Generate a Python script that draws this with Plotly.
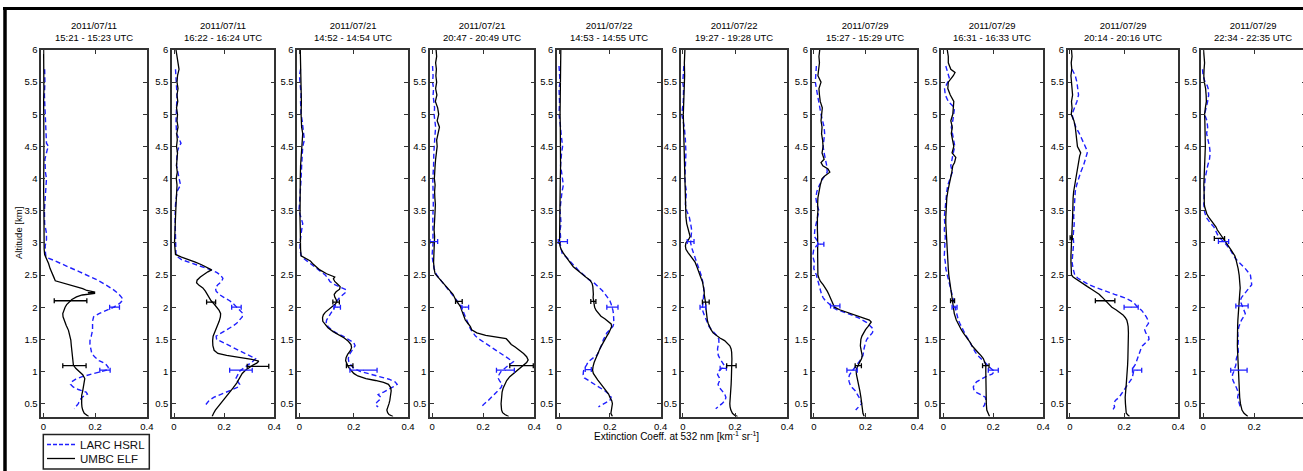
import plotly.graph_objects as go

# ---------------- labels / ticks ----------------
TITLES = [
    "2011/07/11<br>15:21 - 15:23 UTC", "2011/07/11<br>16:22 - 16:24 UTC",
    "2011/07/21<br>14:52 - 14:54 UTC", "2011/07/21<br>20:47 - 20:49 UTC",
    "2011/07/22<br>14:53 - 14:55 UTC", "2011/07/22<br>19:27 - 19:28 UTC",
    "2011/07/29<br>15:27 - 15:29 UTC", "2011/07/29<br>16:31 - 16:33 UTC",
    "2011/07/29<br>20:14 - 20:16 UTC", "2011/07/29<br>22:34 - 22:35 UTC",
]
X_TICKS = [0, 0.2, 0.4]
X_TICK_TEXT = ["0", "0.2", "0.4"]
Y_TICKS = [0.5, 1, 1.5, 2, 2.5, 3, 3.5, 4, 4.5, 5, 5.5, 6]
Y_TICK_TEXT = ["0.5", "1", "1.5", "2", "2.5", "3", "3.5", "4", "4.5", "5", "5.5", "6"]
SERIES_NAMES = ["LARC HSRL", "UMBC ELF"]
Y_TITLE = "Altitude [km]"
X_TITLE = "Extinction Coeff. at 532 nm [km<sup>-1</sup> sr<sup>-1</sup>]"

# ---------------- Panel 1 ----------------
ELF_ALT_1 = [6.0,5.8,5.6,5.4,5.2,5.0,4.8,4.6,4.4,4.2,
             4.0,3.8,3.6,3.4,3.2,3.0,2.9,2.82,2.75,2.68,
             2.6,2.52,2.46,2.41,2.37,2.33,2.29,2.26,2.235,2.225,
             2.215,2.19,2.16,2.12,2.08,2.04,2.0,1.95,1.9,1.85,
             1.8,1.72,1.64,1.56,1.49,1.4,1.3,1.2,1.1,1.05,
             1.0,0.95,0.89,0.82,0.76,0.7,0.63,0.56,0.5,0.45,
             0.4,0.35,0.32,0.3]
ELF_VAL_1 = [0.001,0.002,0.001,0.002,0.001,0.002,0.001,0.002,0.002,0.001,
             0.002,0.001,0.002,0.002,0.003,0.002,0.003,0.005,0.013,0.02,
             0.026,0.036,0.041,0.046,0.08,0.12,0.152,0.168,0.2,0.172,
             0.2,0.15,0.128,0.11,0.098,0.09,0.084,0.078,0.075,0.076,
             0.08,0.088,0.097,0.102,0.106,0.108,0.11,0.112,0.116,0.125,
             0.14,0.152,0.16,0.158,0.155,0.152,0.148,0.147,0.148,0.149,
             0.152,0.158,0.17,0.175]
HSRL_ALT_1 = [5.7,5.5,5.3,5.1,4.9,4.7,4.55,4.5,4.45,4.3,
              4.1,4.0,3.9,3.7,3.5,3.3,3.15,3.05,2.95,2.85,
              2.78,2.72,2.67,2.62,2.55,2.48,2.42,2.35,2.28,2.21,
              2.15,2.11,2.06,2.0,1.95,1.9,1.85,1.78,1.7,1.64,
              1.55,1.48,1.42,1.35,1.28,1.22,1.17,1.12,1.07,1.03,
              1.0,0.96,0.92,0.88,0.84,0.8,0.76,0.72,0.68,0.65,
              0.6,0.55,0.5,0.45,0.42]
HSRL_VAL_1 = [0.005,0.006,0.004,0.006,0.007,0.008,0.012,0.02,0.015,0.006,
              0.008,0.012,0.01,0.006,0.004,0.005,0.012,0.012,0.007,0.008,
              0.01,0.045,0.07,0.1,0.14,0.178,0.21,0.24,0.268,0.29,
              0.303,0.307,0.295,0.272,0.24,0.215,0.194,0.19,0.19,0.19,
              0.185,0.18,0.18,0.183,0.187,0.2,0.215,0.24,0.25,0.252,
              0.225,0.18,0.15,0.125,0.11,0.105,0.115,0.135,0.165,0.17,
              0.15,0.14,0.135,0.125,0.12]
ELF_ERR_ALT_1 = [2.1, 1.09]
ELF_ERR_X_1 = [0.105, 0.12]
ELF_ERR_HALF_1 = [0.063, 0.045]
HSRL_ERR_ALT_1 = [2.0, 1.02]
HSRL_ERR_X_1 = [0.275, 0.238]
HSRL_ERR_HALF_1 = [0.019, 0.02]

# ---------------- Panel 2 ----------------
ELF_ALT_2 = [6.0,5.9,5.8,5.7,5.6,5.5,5.4,5.3,5.2,5.1,
             5.0,4.9,4.8,4.7,4.6,4.5,4.4,4.3,4.2,4.1,
             4.0,3.9,3.8,3.7,3.6,3.5,3.4,3.3,3.2,3.1,
             3.0,2.9,2.82,2.78,2.74,2.7,2.66,2.62,2.58,2.55,
             2.51,2.47,2.42,2.38,2.34,2.3,2.25,2.2,2.15,2.1,
             2.05,2.0,1.95,1.9,1.85,1.78,1.7,1.62,1.55,1.48,
             1.4,1.33,1.28,1.25,1.22,1.19,1.16,1.13,1.1,1.06,
             1.02,0.97,0.9,0.82,0.74,0.66,0.6,0.55,0.5,0.45,
             0.4,0.35,0.3]
ELF_VAL_2 = [0.008,0.012,0.016,0.02,0.014,0.012,0.016,0.012,0.015,0.01,
             0.014,0.012,0.016,0.011,0.013,0.01,0.014,0.012,0.01,0.013,
             0.009,0.012,0.01,0.008,0.009,0.007,0.006,0.004,0.004,0.003,
             0.002,0.003,0.006,0.03,0.06,0.085,0.11,0.13,0.15,0.135,
             0.118,0.105,0.092,0.09,0.1,0.115,0.125,0.132,0.14,0.148,
             0.16,0.172,0.18,0.186,0.185,0.18,0.172,0.162,0.156,0.154,
             0.155,0.16,0.175,0.21,0.26,0.31,0.338,0.33,0.315,0.3,
             0.285,0.272,0.262,0.25,0.235,0.218,0.205,0.195,0.185,0.175,
             0.165,0.158,0.152]
HSRL_ALT_2 = [5.7,5.5,5.3,5.1,4.9,4.7,4.55,4.5,4.4,4.2,
              4.0,3.9,3.8,3.6,3.4,3.2,3.0,2.9,2.8,2.74,
              2.7,2.66,2.62,2.58,2.54,2.5,2.45,2.4,2.35,2.3,
              2.25,2.2,2.15,2.1,2.05,2.0,1.95,1.9,1.85,1.8,
              1.75,1.7,1.65,1.6,1.55,1.5,1.45,1.4,1.35,1.3,
              1.25,1.2,1.16,1.12,1.08,1.04,1.0,0.96,0.92,0.88,
              0.84,0.8,0.76,0.72,0.68,0.64,0.6,0.55,0.5,0.45]
HSRL_VAL_2 = [0.006,0.01,0.012,0.01,0.008,0.01,0.028,0.02,0.012,0.01,
              0.02,0.026,0.012,0.006,0.004,0.006,0.005,0.006,0.008,0.03,
              0.06,0.09,0.12,0.148,0.17,0.185,0.195,0.19,0.175,0.165,
              0.168,0.18,0.2,0.222,0.238,0.25,0.262,0.275,0.272,0.262,
              0.25,0.232,0.212,0.192,0.168,0.17,0.195,0.225,0.25,0.275,
              0.3,0.325,0.315,0.3,0.285,0.27,0.26,0.256,0.25,0.245,
              0.255,0.262,0.258,0.235,0.21,0.185,0.16,0.14,0.128,0.12]
ELF_ERR_ALT_2 = [2.08, 1.08]
ELF_ERR_X_2 = [0.148, 0.335]
ELF_ERR_HALF_2 = [0.018, 0.043]
HSRL_ERR_ALT_2 = [2.0, 1.02]
HSRL_ERR_X_2 = [0.249, 0.267]
HSRL_ERR_HALF_2 = [0.019, 0.045]

# ---------------- Panel 3 ----------------
ELF_ALT_3 = [6.0,5.8,5.6,5.4,5.2,5.0,4.8,4.7,4.6,4.5,
             4.4,4.2,4.0,3.8,3.6,3.4,3.2,3.0,2.9,2.8,
             2.76,2.72,2.68,2.63,2.58,2.52,2.47,2.44,2.4,2.36,
             2.32,2.28,2.24,2.2,2.16,2.12,2.08,2.04,2.0,1.96,
             1.92,1.88,1.84,1.78,1.73,1.68,1.62,1.57,1.52,1.47,
             1.42,1.37,1.32,1.27,1.22,1.17,1.12,1.07,1.02,0.97,
             0.93,0.89,0.86,0.83,0.8,0.75,0.7,0.65,0.6,0.55,
             0.5,0.45,0.4,0.36,0.33,0.3]
ELF_VAL_3 = [0.003,0.004,0.006,0.005,0.007,0.006,0.008,0.012,0.01,0.008,
             0.006,0.004,0.003,0.002,0.003,0.002,0.003,0.003,0.004,0.006,
             0.025,0.04,0.048,0.06,0.075,0.1,0.13,0.125,0.13,0.14,
             0.15,0.148,0.135,0.128,0.13,0.135,0.138,0.13,0.118,0.105,
             0.095,0.088,0.085,0.086,0.094,0.105,0.124,0.145,0.165,0.18,
             0.19,0.192,0.187,0.178,0.172,0.17,0.175,0.18,0.19,0.2,
             0.215,0.245,0.28,0.31,0.328,0.336,0.338,0.337,0.335,0.333,
             0.33,0.326,0.322,0.325,0.33,0.345]
HSRL_ALT_3 = [5.7,5.6,5.5,5.4,5.3,5.2,5.0,4.9,4.8,4.7,
              4.6,4.5,4.4,4.2,4.0,3.8,3.6,3.5,3.4,3.3,
              3.2,3.1,3.0,2.9,2.8,2.75,2.7,2.65,2.6,2.55,
              2.5,2.45,2.4,2.35,2.3,2.27,2.23,2.19,2.15,2.1,
              2.05,2.0,1.95,1.9,1.85,1.8,1.75,1.7,1.65,1.6,
              1.55,1.5,1.45,1.4,1.35,1.3,1.25,1.2,1.15,1.1,
              1.05,1.0,0.96,0.92,0.88,0.84,0.8,0.76,0.72,0.68,
              0.64,0.6,0.56,0.52,0.48,0.45]
HSRL_VAL_3 = [0.004,0.0,0.002,0.005,0.006,0.004,0.006,0.01,0.012,0.016,
              0.018,0.012,0.01,0.008,0.006,0.004,0.0,-0.002,0.006,0.012,
              0.008,0.004,0.002,0.002,0.006,0.018,0.035,0.05,0.065,0.08,
              0.095,0.105,0.112,0.13,0.155,0.172,0.17,0.158,0.148,0.138,
              0.135,0.13,0.122,0.115,0.107,0.1,0.098,0.105,0.118,0.135,
              0.16,0.18,0.2,0.205,0.198,0.19,0.182,0.18,0.182,0.19,
              0.2,0.225,0.26,0.3,0.33,0.352,0.36,0.345,0.33,0.31,
              0.29,0.3,0.295,0.285,0.28,0.29]
ELF_ERR_ALT_3 = [2.08, 1.09]
ELF_ERR_X_3 = [0.135, 0.185]
ELF_ERR_HALF_3 = [0.012, 0.012]
HSRL_ERR_ALT_3 = [2.0, 1.02]
HSRL_ERR_X_3 = [0.139, 0.236]
HSRL_ERR_HALF_3 = [0.012, 0.05]

# ---------------- Panel 4 ----------------
ELF_ALT_4 = [6.0,5.9,5.8,5.7,5.6,5.5,5.4,5.3,5.2,5.1,
             5.0,4.9,4.8,4.7,4.6,4.5,4.4,4.3,4.2,4.1,
             4.0,3.9,3.8,3.7,3.6,3.5,3.4,3.3,3.2,3.1,
             3.0,2.9,2.8,2.7,2.6,2.52,2.46,2.4,2.35,2.3,
             2.25,2.2,2.15,2.1,2.05,2.0,1.95,1.9,1.85,1.8,
             1.75,1.7,1.65,1.6,1.56,1.53,1.51,1.49,1.46,1.42,
             1.38,1.33,1.28,1.23,1.18,1.14,1.1,1.06,1.02,0.97,
             0.92,0.86,0.8,0.74,0.68,0.62,0.56,0.5,0.45,0.4,
             0.36,0.33,0.3]
ELF_VAL_4 = [0.016,0.018,0.014,0.017,0.015,0.018,0.014,0.019,0.013,0.022,
             0.026,0.02,0.029,0.022,0.018,0.02,0.016,0.014,0.012,0.011,
             0.009,0.012,0.01,0.011,0.013,0.012,0.01,0.009,0.008,0.01,
             0.009,0.007,0.006,0.006,0.008,0.012,0.025,0.038,0.05,0.062,
             0.073,0.082,0.088,0.094,0.104,0.112,0.116,0.12,0.124,0.13,
             0.14,0.15,0.155,0.175,0.21,0.25,0.29,0.295,0.3,0.31,
             0.325,0.344,0.358,0.37,0.376,0.37,0.358,0.345,0.33,0.316,
             0.304,0.292,0.284,0.278,0.274,0.272,0.27,0.27,0.271,0.272,
             0.276,0.285,0.3]
HSRL_ALT_4 = [5.75,5.6,5.5,5.4,5.3,5.2,5.1,5.0,4.9,4.8,
              4.7,4.6,4.5,4.4,4.2,4.0,3.8,3.6,3.4,3.2,
              3.1,3.0,2.9,2.8,2.7,2.6,2.5,2.45,2.4,2.35,
              2.3,2.25,2.2,2.15,2.1,2.05,2.0,1.95,1.9,1.85,
              1.8,1.75,1.7,1.65,1.6,1.55,1.5,1.45,1.4,1.35,
              1.3,1.25,1.2,1.15,1.1,1.05,1.0,0.95,0.9,0.85,
              0.8,0.75,0.7,0.65,0.6,0.55,0.5,0.45]
HSRL_VAL_4 = [0.002,0.004,0.002,0.006,0.004,0.006,0.01,0.008,0.012,0.014,
              0.012,0.01,0.008,0.007,0.006,0.003,0.004,0.005,0.003,0.004,
              0.006,0.004,0.002,0.0,0.004,0.008,0.018,0.028,0.038,0.05,
              0.06,0.068,0.08,0.09,0.1,0.108,0.115,0.12,0.124,0.128,
              0.134,0.14,0.146,0.152,0.16,0.17,0.186,0.205,0.225,0.245,
              0.265,0.285,0.3,0.318,0.3,0.285,0.27,0.262,0.258,0.265,
              0.275,0.27,0.258,0.245,0.232,0.22,0.205,0.193]
ELF_ERR_ALT_4 = [2.09, 1.09]
ELF_ERR_X_4 = [0.105, 0.35]
ELF_ERR_HALF_4 = [0.013, 0.046]
HSRL_ERR_ALT_4 = [3.02, 2.0, 1.02]
HSRL_ERR_X_4 = [0.007, 0.13, 0.287]
HSRL_ERR_HALF_4 = [0.015, 0.013, 0.035]

# ---------------- Panel 5 ----------------
ELF_ALT_5 = [6.0,5.8,5.6,5.4,5.2,5.0,4.8,4.6,4.4,4.2,
             4.0,3.8,3.6,3.4,3.2,3.0,2.95,2.9,2.84,2.78,
             2.73,2.68,2.63,2.58,2.52,2.47,2.42,2.37,2.32,2.26,
             2.2,2.15,2.1,2.05,2.0,1.95,1.9,1.86,1.82,1.78,
             1.74,1.7,1.65,1.6,1.55,1.5,1.44,1.38,1.32,1.26,
             1.2,1.14,1.08,1.02,0.97,0.92,0.87,0.82,0.76,0.7,
             0.65,0.6,0.55,0.5,0.45,0.4,0.35,0.3]
ELF_VAL_5 = [0.007,0.006,0.007,0.005,0.006,0.004,0.005,0.006,0.005,0.006,
             0.005,0.004,0.004,0.003,0.003,0.002,0.004,0.008,0.017,0.027,
             0.037,0.046,0.056,0.07,0.089,0.105,0.122,0.13,0.133,0.135,
             0.135,0.134,0.135,0.137,0.14,0.146,0.155,0.165,0.18,0.195,
             0.205,0.207,0.203,0.196,0.188,0.18,0.172,0.164,0.157,0.15,
             0.144,0.138,0.134,0.132,0.135,0.142,0.152,0.162,0.175,0.185,
             0.195,0.2,0.207,0.21,0.208,0.205,0.204,0.21]
HSRL_ALT_5 = [5.75,5.6,5.5,5.4,5.2,5.0,4.9,4.8,4.7,4.6,
              4.5,4.4,4.3,4.2,4.1,4.0,3.9,3.8,3.7,3.6,
              3.5,3.4,3.3,3.2,3.1,3.0,2.95,2.9,2.84,2.78,
              2.73,2.68,2.63,2.58,2.52,2.47,2.42,2.37,2.32,2.26,
              2.2,2.15,2.1,2.05,2.0,1.95,1.9,1.85,1.8,1.75,
              1.7,1.65,1.6,1.55,1.5,1.44,1.38,1.32,1.26,1.2,
              1.15,1.1,1.05,1.0,0.95,0.9,0.85,0.8,0.75,0.7,
              0.65,0.6,0.55,0.5,0.45]
HSRL_VAL_5 = [0.0,0.002,0.004,0.0,0.002,0.0,0.004,0.006,0.008,0.01,
              0.014,0.01,0.008,0.006,0.01,0.014,0.017,0.012,0.008,0.006,
              0.004,0.006,0.008,0.004,0.006,0.004,0.006,0.008,0.012,0.028,
              0.04,0.05,0.06,0.075,0.092,0.105,0.12,0.14,0.155,0.17,
              0.182,0.192,0.2,0.205,0.21,0.212,0.214,0.215,0.214,0.216,
              0.212,0.2,0.188,0.182,0.175,0.17,0.165,0.158,0.15,0.13,
              0.115,0.108,0.1,0.096,0.095,0.1,0.12,0.145,0.165,0.18,
              0.195,0.205,0.2,0.18,0.155]
ELF_ERR_ALT_5 = [2.09]
ELF_ERR_X_5 = [0.135]
ELF_ERR_HALF_5 = [0.01]
HSRL_ERR_ALT_5 = [3.02, 2.0, 1.03]
HSRL_ERR_X_5 = [0.015, 0.21, 0.115]
HSRL_ERR_HALF_5 = [0.018, 0.022, 0.012]

# ---------------- Panel 6 ----------------
ELF_ALT_6 = [6.0,5.8,5.6,5.4,5.2,5.0,4.8,4.6,4.4,4.2,
             4.0,3.8,3.6,3.5,3.4,3.3,3.25,3.2,3.15,3.1,
             3.05,3.0,2.95,2.9,2.85,2.8,2.75,2.7,2.65,2.6,
             2.55,2.5,2.45,2.4,2.35,2.3,2.25,2.2,2.15,2.1,
             2.05,2.0,1.95,1.9,1.85,1.8,1.75,1.7,1.65,1.6,
             1.56,1.52,1.48,1.44,1.4,1.35,1.3,1.2,1.1,1.0,
             0.9,0.8,0.7,0.6,0.5,0.45,0.4,0.35,0.32,0.3]
ELF_VAL_6 = [0.008,0.006,0.007,0.005,0.004,0.002,0.003,0.004,0.005,0.006,
             0.008,0.008,0.009,0.01,0.012,0.015,0.018,0.022,0.026,0.028,
             0.022,0.012,0.01,0.012,0.02,0.03,0.04,0.047,0.052,0.056,
             0.062,0.065,0.07,0.075,0.078,0.081,0.082,0.082,0.084,0.087,
             0.088,0.088,0.089,0.09,0.092,0.094,0.097,0.102,0.108,0.116,
             0.128,0.142,0.16,0.172,0.18,0.185,0.187,0.188,0.188,0.187,
             0.186,0.185,0.183,0.18,0.18,0.181,0.184,0.19,0.198,0.21]
HSRL_ALT_6 = [5.75,5.6,5.5,5.4,5.2,5.0,4.8,4.6,4.4,4.2,
              4.0,3.9,3.8,3.7,3.6,3.5,3.4,3.3,3.2,3.1,
              3.0,2.9,2.8,2.7,2.6,2.5,2.4,2.3,2.2,2.1,
              2.05,2.0,1.95,1.9,1.85,1.8,1.75,1.7,1.65,1.6,
              1.55,1.5,1.45,1.4,1.35,1.3,1.25,1.2,1.15,1.1,
              1.05,1.0,0.95,0.9,0.85,0.8,0.75,0.7,0.65,0.6,
              0.55,0.5,0.45,0.42]
HSRL_VAL_6 = [0.004,0.002,0.0,0.003,0.002,-0.004,0.006,0.01,0.012,0.01,
              0.008,0.01,0.014,0.012,0.01,0.015,0.025,0.03,0.034,0.032,
              0.03,0.036,0.045,0.055,0.062,0.07,0.076,0.08,0.08,0.079,
              0.077,0.075,0.076,0.08,0.085,0.09,0.095,0.1,0.11,0.122,
              0.132,0.138,0.138,0.135,0.133,0.134,0.136,0.142,0.15,0.158,
              0.15,0.135,0.133,0.14,0.14,0.135,0.14,0.15,0.16,0.165,
              0.162,0.15,0.135,0.126]
ELF_ERR_ALT_6 = [2.08, 1.09]
ELF_ERR_X_6 = [0.088, 0.186]
ELF_ERR_HALF_6 = [0.013, 0.018]
HSRL_ERR_ALT_6 = [3.02, 2.0, 1.05]
HSRL_ERR_X_6 = [0.03, 0.077, 0.155]
HSRL_ERR_HALF_6 = [0.013, 0.011, 0.012]

# ---------------- Panel 7 ----------------
ELF_ALT_7 = [6.0,5.9,5.8,5.7,5.6,5.5,5.4,5.3,5.2,5.1,
             5.0,4.9,4.8,4.7,4.6,4.5,4.4,4.3,4.25,4.2,
             4.15,4.1,4.05,4.0,3.9,3.8,3.7,3.6,3.5,3.4,
             3.3,3.2,3.1,3.0,2.9,2.8,2.7,2.6,2.5,2.45,
             2.4,2.35,2.3,2.25,2.2,2.15,2.1,2.05,2.0,1.96,
             1.92,1.88,1.84,1.8,1.77,1.74,1.7,1.65,1.6,1.55,
             1.5,1.45,1.4,1.35,1.3,1.25,1.2,1.15,1.1,1.05,
             1.0,0.95,0.9,0.85,0.8,0.7,0.6,0.5,0.45,0.4,
             0.35,0.3]
ELF_VAL_7 = [0.023,0.02,0.022,0.018,0.016,0.028,0.02,0.022,0.025,0.033,
             0.03,0.028,0.032,0.03,0.034,0.036,0.032,0.04,0.028,0.035,
             0.055,0.062,0.045,0.032,0.025,0.02,0.016,0.015,0.016,0.014,
             0.013,0.014,0.015,0.016,0.015,0.015,0.015,0.015,0.016,0.02,
             0.026,0.036,0.045,0.052,0.058,0.064,0.07,0.075,0.08,0.1,
             0.13,0.16,0.19,0.215,0.222,0.218,0.21,0.2,0.192,0.186,
             0.182,0.18,0.18,0.182,0.185,0.187,0.185,0.18,0.172,0.166,
             0.164,0.165,0.168,0.172,0.175,0.178,0.182,0.185,0.186,0.188,
             0.19,0.195]
HSRL_ALT_7 = [5.75,5.6,5.5,5.4,5.3,5.2,5.1,5.0,4.9,4.8,
              4.7,4.6,4.5,4.4,4.3,4.2,4.1,4.0,3.9,3.8,
              3.7,3.6,3.5,3.4,3.3,3.2,3.1,3.0,2.9,2.8,
              2.7,2.6,2.5,2.4,2.3,2.25,2.2,2.15,2.1,2.05,
              2.0,1.96,1.92,1.88,1.84,1.8,1.76,1.72,1.68,1.64,
              1.6,1.55,1.5,1.45,1.4,1.35,1.3,1.25,1.2,1.15,
              1.1,1.05,1.0,0.95,0.9,0.85,0.8,0.75,0.7,0.65,
              0.6,0.55,0.5,0.45,0.4]
HSRL_VAL_7 = [0.01,0.008,0.006,0.01,0.014,0.018,0.022,0.028,0.034,0.04,
              0.042,0.038,0.036,0.04,0.045,0.05,0.052,0.035,0.022,0.012,
              0.008,0.012,0.02,0.015,0.008,0.004,0.002,0.02,0.0,-0.004,
              0.002,0.0,0.01,0.016,0.022,0.026,0.03,0.036,0.045,0.06,
              0.072,0.09,0.12,0.145,0.17,0.19,0.205,0.215,0.225,0.23,
              0.226,0.215,0.205,0.2,0.196,0.194,0.192,0.19,0.184,0.175,
              0.165,0.155,0.145,0.138,0.135,0.136,0.14,0.148,0.16,0.168,
              0.176,0.182,0.185,0.175,0.162]
ELF_ERR_ALT_7 = [1.09]
ELF_ERR_X_7 = [0.172]
ELF_ERR_HALF_7 = [0.012]
HSRL_ERR_ALT_7 = [2.98, 2.02, 1.02]
HSRL_ERR_X_7 = [0.027, 0.083, 0.148]
HSRL_ERR_HALF_7 = [0.012, 0.018, 0.02]

# ---------------- Panel 8 ----------------
ELF_ALT_8 = [6.0,5.9,5.8,5.7,5.65,5.6,5.5,5.4,5.3,5.2,
             5.1,5.0,4.9,4.8,4.7,4.6,4.5,4.4,4.33,4.25,
             4.2,4.1,4.0,3.9,3.8,3.7,3.6,3.5,3.4,3.3,
             3.2,3.1,3.0,2.9,2.8,2.7,2.6,2.5,2.4,2.3,
             2.2,2.1,2.0,1.9,1.8,1.75,1.7,1.65,1.6,1.55,
             1.5,1.45,1.4,1.35,1.3,1.25,1.2,1.15,1.1,1.0,
             0.9,0.8,0.7,0.6,0.5,0.4,0.35,0.3]
ELF_VAL_8 = [0.016,0.02,0.02,0.03,0.047,0.04,0.02,0.018,0.028,0.042,
             0.04,0.038,0.03,0.036,0.032,0.038,0.042,0.035,0.05,0.045,
             0.038,0.034,0.028,0.022,0.018,0.014,0.012,0.012,0.01,0.01,
             0.011,0.012,0.013,0.014,0.016,0.018,0.02,0.022,0.026,0.03,
             0.034,0.037,0.04,0.044,0.052,0.058,0.065,0.072,0.08,0.09,
             0.1,0.108,0.115,0.125,0.138,0.15,0.16,0.165,0.17,0.17,
             0.17,0.171,0.17,0.17,0.172,0.174,0.178,0.185]
HSRL_ALT_8 = [5.75,5.65,5.55,5.5,5.4,5.3,5.2,5.1,5.0,4.9,
              4.8,4.7,4.6,4.5,4.4,4.3,4.2,4.1,4.0,3.9,
              3.8,3.7,3.6,3.5,3.4,3.3,3.2,3.1,3.0,2.9,
              2.8,2.7,2.6,2.5,2.4,2.3,2.2,2.1,2.0,1.9,
              1.8,1.75,1.7,1.65,1.6,1.55,1.5,1.45,1.4,1.35,
              1.3,1.25,1.2,1.15,1.1,1.05,1.0,0.96,0.92,0.88,
              0.84,0.8,0.76,0.72,0.68,0.64,0.6,0.56,0.52,0.48,
              0.45]
HSRL_VAL_8 = [0.01,0.018,0.025,0.018,0.005,0.008,0.02,0.045,0.042,0.038,
              0.032,0.036,0.042,0.046,0.04,0.035,0.03,0.036,0.028,0.018,
              0.014,0.012,0.008,0.006,0.004,0.006,0.004,0.008,0.006,0.005,
              0.004,0.008,0.01,0.016,0.022,0.028,0.034,0.04,0.045,0.052,
              0.06,0.066,0.072,0.08,0.085,0.092,0.1,0.107,0.114,0.12,
              0.128,0.138,0.15,0.162,0.175,0.19,0.205,0.195,0.17,0.148,
              0.133,0.125,0.12,0.122,0.13,0.15,0.168,0.17,0.168,0.165,
              0.16]
ELF_ERR_ALT_8 = [2.1, 1.09]
ELF_ERR_X_8 = [0.037, 0.17]
ELF_ERR_HALF_8 = [0.008, 0.013]
HSRL_ERR_ALT_8 = [2.0, 1.02]
HSRL_ERR_X_8 = [0.045, 0.2]
HSRL_ERR_HALF_8 = [0.01, 0.02]

# ---------------- Panel 9 ----------------
ELF_ALT_9 = [6.0,5.9,5.8,5.7,5.6,5.5,5.4,5.3,5.2,5.1,
             5.0,4.9,4.8,4.7,4.6,4.5,4.45,4.4,4.35,4.3,
             4.2,4.1,4.0,3.9,3.8,3.7,3.6,3.5,3.4,3.3,
             3.2,3.1,3.0,2.9,2.8,2.7,2.6,2.5,2.47,2.44,
             2.4,2.36,2.32,2.28,2.24,2.2,2.16,2.12,2.08,2.04,
             2.0,1.96,1.92,1.88,1.84,1.8,1.75,1.7,1.6,1.5,
             1.4,1.3,1.2,1.1,1.0,0.9,0.8,0.7,0.6,0.5,
             0.45,0.4,0.35,0.32,0.3]
ELF_VAL_9 = [0.006,0.008,0.005,0.007,0.004,0.006,0.008,0.01,0.006,0.008,
             0.005,0.015,0.02,0.022,0.025,0.028,0.034,0.04,0.036,0.034,
             0.03,0.025,0.02,0.016,0.014,0.012,0.012,0.011,0.01,0.009,
             0.008,0.006,0.004,0.004,0.004,0.004,0.004,0.006,0.012,0.022,
             0.035,0.048,0.065,0.08,0.095,0.108,0.118,0.128,0.135,0.145,
             0.155,0.17,0.185,0.196,0.204,0.21,0.213,0.215,0.216,0.216,
             0.215,0.215,0.214,0.213,0.212,0.21,0.208,0.206,0.204,0.205,
             0.206,0.206,0.208,0.215,0.22]
HSRL_ALT_9 = [5.7,5.6,5.5,5.4,5.3,5.2,5.1,5.0,4.9,4.8,
              4.7,4.6,4.5,4.45,4.4,4.3,4.2,4.1,4.0,3.9,
              3.8,3.7,3.6,3.5,3.4,3.3,3.2,3.1,3.0,2.9,
              2.8,2.7,2.6,2.55,2.5,2.45,2.4,2.35,2.3,2.25,
              2.2,2.15,2.1,2.05,2.0,1.95,1.9,1.85,1.8,1.75,
              1.7,1.65,1.6,1.55,1.5,1.45,1.4,1.35,1.3,1.25,
              1.2,1.15,1.1,1.05,1.0,0.95,0.9,0.85,0.8,0.75,
              0.7,0.65,0.6,0.55,0.5,0.45,0.4]
HSRL_VAL_9 = [0.008,0.02,0.026,0.03,0.032,0.026,0.018,0.008,0.014,0.022,
              0.035,0.045,0.055,0.062,0.064,0.058,0.05,0.04,0.032,0.025,
              0.02,0.018,0.016,0.014,0.014,0.016,0.014,0.012,0.014,0.012,
              0.01,0.008,0.012,0.015,0.018,0.03,0.05,0.07,0.1,0.13,
              0.165,0.2,0.225,0.24,0.25,0.265,0.275,0.282,0.288,0.29,
              0.282,0.276,0.28,0.29,0.292,0.28,0.268,0.262,0.258,0.255,
              0.25,0.245,0.24,0.232,0.235,0.232,0.23,0.222,0.215,0.205,
              0.198,0.19,0.182,0.168,0.162,0.165,0.158]
ELF_ERR_ALT_9 = [3.08, 2.1]
ELF_ERR_X_9 = [0.005, 0.13]
ELF_ERR_HALF_9 = [0.004, 0.036]
HSRL_ERR_ALT_9 = [2.0, 1.02]
HSRL_ERR_X_9 = [0.226, 0.248]
HSRL_ERR_HALF_9 = [0.026, 0.017]

# ---------------- Panel 10 ----------------
ELF_ALT_10 = [6.0,5.9,5.8,5.7,5.6,5.5,5.4,5.3,5.2,5.1,
              5.0,4.9,4.8,4.7,4.6,4.5,4.4,4.3,4.2,4.1,
              4.0,3.9,3.8,3.7,3.6,3.55,3.5,3.45,3.4,3.35,
              3.3,3.25,3.2,3.15,3.1,3.05,3.0,2.95,2.9,2.85,
              2.8,2.75,2.7,2.6,2.5,2.4,2.3,2.2,2.1,2.0,
              1.9,1.8,1.7,1.6,1.5,1.4,1.3,1.2,1.1,1.0,
              0.9,0.8,0.7,0.6,0.5,0.45,0.4,0.35,0.32,0.3]
ELF_VAL_10 = [0.002,0.004,0.006,0.004,0.003,0.005,0.01,0.012,0.013,0.009,
              0.006,0.007,0.008,0.009,0.008,0.009,0.008,0.007,0.006,0.004,
              0.003,0.003,0.004,0.004,0.005,0.007,0.01,0.015,0.022,0.032,
              0.042,0.05,0.056,0.065,0.075,0.083,0.092,0.1,0.108,0.116,
              0.124,0.128,0.132,0.137,0.141,0.144,0.145,0.143,0.141,0.138,
              0.137,0.136,0.135,0.134,0.134,0.134,0.135,0.136,0.137,0.138,
              0.139,0.14,0.141,0.143,0.146,0.148,0.152,0.16,0.168,0.175]
HSRL_ALT_10 = [5.7,5.6,5.5,5.45,5.4,5.3,5.2,5.1,5.0,4.9,
               4.8,4.7,4.6,4.5,4.4,4.3,4.2,4.1,4.0,3.9,
               3.8,3.7,3.6,3.5,3.4,3.3,3.25,3.2,3.1,3.0,
               2.9,2.8,2.75,2.7,2.6,2.5,2.4,2.35,2.3,2.25,
               2.2,2.15,2.1,2.05,2.0,1.95,1.9,1.85,1.8,1.7,
               1.6,1.5,1.4,1.3,1.2,1.1,1.05,1.0,0.95,0.9,
               0.85,0.8,0.75,0.7,0.65,0.6,0.55,0.5,0.45]
HSRL_VAL_10 = [-0.002,0.0,0.008,0.016,0.02,0.022,0.018,0.012,0.006,0.015,
               0.018,0.014,0.02,0.025,0.028,0.025,0.018,0.012,0.008,0.006,
               0.005,0.004,0.003,0.005,0.012,0.03,0.042,0.048,0.06,0.085,
               0.105,0.12,0.128,0.14,0.165,0.185,0.19,0.19,0.18,0.17,
               0.16,0.15,0.145,0.15,0.155,0.16,0.165,0.158,0.15,0.14,
               0.135,0.138,0.136,0.138,0.13,0.128,0.125,0.12,0.115,0.114,
               0.118,0.125,0.13,0.135,0.138,0.135,0.138,0.14,0.145]
ELF_ERR_ALT_10 = [3.07]
ELF_ERR_X_10 = [0.064]
ELF_ERR_HALF_10 = [0.02]
HSRL_ERR_ALT_10 = [3.02, 2.02, 1.02]
HSRL_ERR_X_10 = [0.08, 0.152, 0.14]
HSRL_ERR_HALF_10 = [0.02, 0.024, 0.032]

PANELS = [
    (ELF_ALT_1, ELF_VAL_1, HSRL_ALT_1, HSRL_VAL_1, ELF_ERR_ALT_1, ELF_ERR_X_1, ELF_ERR_HALF_1, HSRL_ERR_ALT_1, HSRL_ERR_X_1, HSRL_ERR_HALF_1),
    (ELF_ALT_2, ELF_VAL_2, HSRL_ALT_2, HSRL_VAL_2, ELF_ERR_ALT_2, ELF_ERR_X_2, ELF_ERR_HALF_2, HSRL_ERR_ALT_2, HSRL_ERR_X_2, HSRL_ERR_HALF_2),
    (ELF_ALT_3, ELF_VAL_3, HSRL_ALT_3, HSRL_VAL_3, ELF_ERR_ALT_3, ELF_ERR_X_3, ELF_ERR_HALF_3, HSRL_ERR_ALT_3, HSRL_ERR_X_3, HSRL_ERR_HALF_3),
    (ELF_ALT_4, ELF_VAL_4, HSRL_ALT_4, HSRL_VAL_4, ELF_ERR_ALT_4, ELF_ERR_X_4, ELF_ERR_HALF_4, HSRL_ERR_ALT_4, HSRL_ERR_X_4, HSRL_ERR_HALF_4),
    (ELF_ALT_5, ELF_VAL_5, HSRL_ALT_5, HSRL_VAL_5, ELF_ERR_ALT_5, ELF_ERR_X_5, ELF_ERR_HALF_5, HSRL_ERR_ALT_5, HSRL_ERR_X_5, HSRL_ERR_HALF_5),
    (ELF_ALT_6, ELF_VAL_6, HSRL_ALT_6, HSRL_VAL_6, ELF_ERR_ALT_6, ELF_ERR_X_6, ELF_ERR_HALF_6, HSRL_ERR_ALT_6, HSRL_ERR_X_6, HSRL_ERR_HALF_6),
    (ELF_ALT_7, ELF_VAL_7, HSRL_ALT_7, HSRL_VAL_7, ELF_ERR_ALT_7, ELF_ERR_X_7, ELF_ERR_HALF_7, HSRL_ERR_ALT_7, HSRL_ERR_X_7, HSRL_ERR_HALF_7),
    (ELF_ALT_8, ELF_VAL_8, HSRL_ALT_8, HSRL_VAL_8, ELF_ERR_ALT_8, ELF_ERR_X_8, ELF_ERR_HALF_8, HSRL_ERR_ALT_8, HSRL_ERR_X_8, HSRL_ERR_HALF_8),
    (ELF_ALT_9, ELF_VAL_9, HSRL_ALT_9, HSRL_VAL_9, ELF_ERR_ALT_9, ELF_ERR_X_9, ELF_ERR_HALF_9, HSRL_ERR_ALT_9, HSRL_ERR_X_9, HSRL_ERR_HALF_9),
    (ELF_ALT_10, ELF_VAL_10, HSRL_ALT_10, HSRL_VAL_10, ELF_ERR_ALT_10, ELF_ERR_X_10, ELF_ERR_HALF_10, HSRL_ERR_ALT_10, HSRL_ERR_X_10, HSRL_ERR_HALF_10),
]

for k, p in enumerate(PANELS):
    if len(p[0]) != len(p[1]) or len(p[2]) != len(p[3]):
        raise ValueError(f"panel {k+1}: ELF {len(p[0])}/{len(p[1])}, HSRL {len(p[2])}/{len(p[3])}")

# ---------------- layout (pixels) ----------------
# The figure is slightly wider than the 1303 px window so that, as in the
# reference, the right edge of the last panel falls just outside the view.
W, H = 1308, 471
PANEL_PX = [(41.3, 146.9), (172.0, 274.3), (297.3, 408.0), (430.0, 534.3), (557.0, 660.7),
            (680.7, 787.3), (811.7, 917.3), (941.3, 1043.3), (1067.7, 1178.3), (1201.0, 1305.5)]
X_RANGE = [-0.008, 0.4]
TOP_PX, BOT_PX = 50.0, 416.5
FONT = "Arial, Liberation Sans, Helvetica, sans-serif"
FRAME = "#333333"
BLUE = "#1f1fff"
TXT = "#000000"


def px(x):
    return x / W


def py(y):
    return 1 - y / H


fig = go.Figure()
layout = dict(
    width=W, height=H, margin=dict(l=0, r=0, t=0, b=0, autoexpand=False),
    paper_bgcolor="white", plot_bgcolor="white",
    font=dict(family=FONT, size=9.5, color=TXT),
    showlegend=False,
)

annotations = []
for i, p in enumerate(PANELS):
    n = i + 1
    xs = "x" if n == 1 else f"x{n}"
    ys = "y" if n == 1 else f"y{n}"
    ea, ev, ha, hv, eea, eex, eeh, hea, hex_, heh = p
    fig.add_trace(go.Scatter(x=hv, y=ha, mode="lines", name=SERIES_NAMES[0],
                             line=dict(color=BLUE, width=1.4, dash="5px,3px"),
                             xaxis=xs, yaxis=ys))
    fig.add_trace(go.Scatter(x=ev, y=ea, mode="lines", name=SERIES_NAMES[1],
                             line=dict(color="black", width=1.3),
                             xaxis=xs, yaxis=ys))
    fig.add_trace(go.Scatter(x=hex_, y=hea, mode="markers", name=SERIES_NAMES[0] + " error",
                             marker=dict(size=1, color=BLUE),
                             error_x=dict(type="data", array=heh, visible=True, color=BLUE,
                                          thickness=1.3, width=2.5),
                             xaxis=xs, yaxis=ys))
    fig.add_trace(go.Scatter(x=eex, y=eea, mode="markers", name=SERIES_NAMES[1] + " error",
                             marker=dict(size=1, color="black"),
                             error_x=dict(type="data", array=eeh, visible=True, color="black",
                                          thickness=1.3, width=2.5),
                             xaxis=xs, yaxis=ys))
    x0, x1 = PANEL_PX[i]
    common = dict(showline=True, linecolor=FRAME, linewidth=1.5, mirror="ticks",
                  ticks="inside", ticklen=4, tickwidth=1, tickcolor=FRAME,
                  showgrid=False, zeroline=False, automargin=False,
                  tickfont=dict(family=FONT, size=9.5, color=TXT))
    layout["xaxis" if n == 1 else f"xaxis{n}"] = dict(
        domain=[px(x0), px(x1)], range=X_RANGE, anchor=ys,
        tickmode="array", tickvals=X_TICKS, ticktext=X_TICK_TEXT, **common)
    layout["yaxis" if n == 1 else f"yaxis{n}"] = dict(
        domain=[py(BOT_PX), py(TOP_PX)], range=[0.3, 6.0], anchor=xs,
        tickmode="array", tickvals=Y_TICKS, ticktext=Y_TICK_TEXT, **common)
    annotations.append(dict(x=px((x0 + x1) / 2), y=py(45.0), xref="paper", yref="paper",
                            xanchor="center", yanchor="bottom", showarrow=False,
                            text=TITLES[i], font=dict(family=FONT, size=9.5, color=TXT)))

annotations.append(dict(x=px(18), y=py(233), xref="paper", yref="paper", textangle=-90,
                        xanchor="center", yanchor="middle", showarrow=False, text=Y_TITLE,
                        font=dict(family=FONT, size=9.5, color=TXT)))
annotations.append(dict(x=px(676), y=py(435.5), xref="paper", yref="paper",
                        xanchor="center", yanchor="middle", showarrow=False, text=X_TITLE,
                        font=dict(family=FONT, size=10, color=TXT)))

# legend box (drawn like the MATLAB legend of the reference)
LEG_BOX = (43.3, 434.5, 149.3, 469.0)
LEG_ROWS = [444.5, 458.5]
annotations.append(dict(x=px(77.5), y=py(LEG_ROWS[0]), xref="paper", yref="paper",
                        xanchor="left", yanchor="middle", showarrow=False, text=SERIES_NAMES[0],
                        font=dict(family=FONT, size=11.5, color="#111")))
annotations.append(dict(x=px(77.5), y=py(LEG_ROWS[1]), xref="paper", yref="paper",
                        xanchor="left", yanchor="middle", showarrow=False, text=SERIES_NAMES[1],
                        font=dict(family=FONT, size=11.5, color="#111")))
layout["annotations"] = annotations
layout["shapes"] = [
    dict(type="line", xref="paper", yref="paper", x0=px(3), x1=1.0, y0=py(8.5), y1=py(8.5),
         line=dict(color="black", width=3)),
    dict(type="line", xref="paper", yref="paper", x0=px(5), x1=px(5), y0=0, y1=py(7),
         line=dict(color="black", width=3.5)),
    dict(type="rect", xref="paper", yref="paper", x0=px(LEG_BOX[0]), x1=px(LEG_BOX[2]),
         y0=py(LEG_BOX[3]), y1=py(LEG_BOX[1]), line=dict(color="#222", width=1.5),
         fillcolor="white", layer="above"),
    dict(type="line", xref="paper", yref="paper", x0=px(47), x1=px(75),
         y0=py(LEG_ROWS[0]), y1=py(LEG_ROWS[0]), line=dict(color=BLUE, width=1.4, dash="4px,2px")),
    dict(type="line", xref="paper", yref="paper", x0=px(47), x1=px(75),
         y0=py(LEG_ROWS[1]), y1=py(LEG_ROWS[1]), line=dict(color="black", width=1.3)),
]
fig.update_layout(**layout)

fig.write_html("out.html", config={"displayModeBar": False},
               post_script="document.body.style.margin='0';document.body.style.overflow='hidden';")
